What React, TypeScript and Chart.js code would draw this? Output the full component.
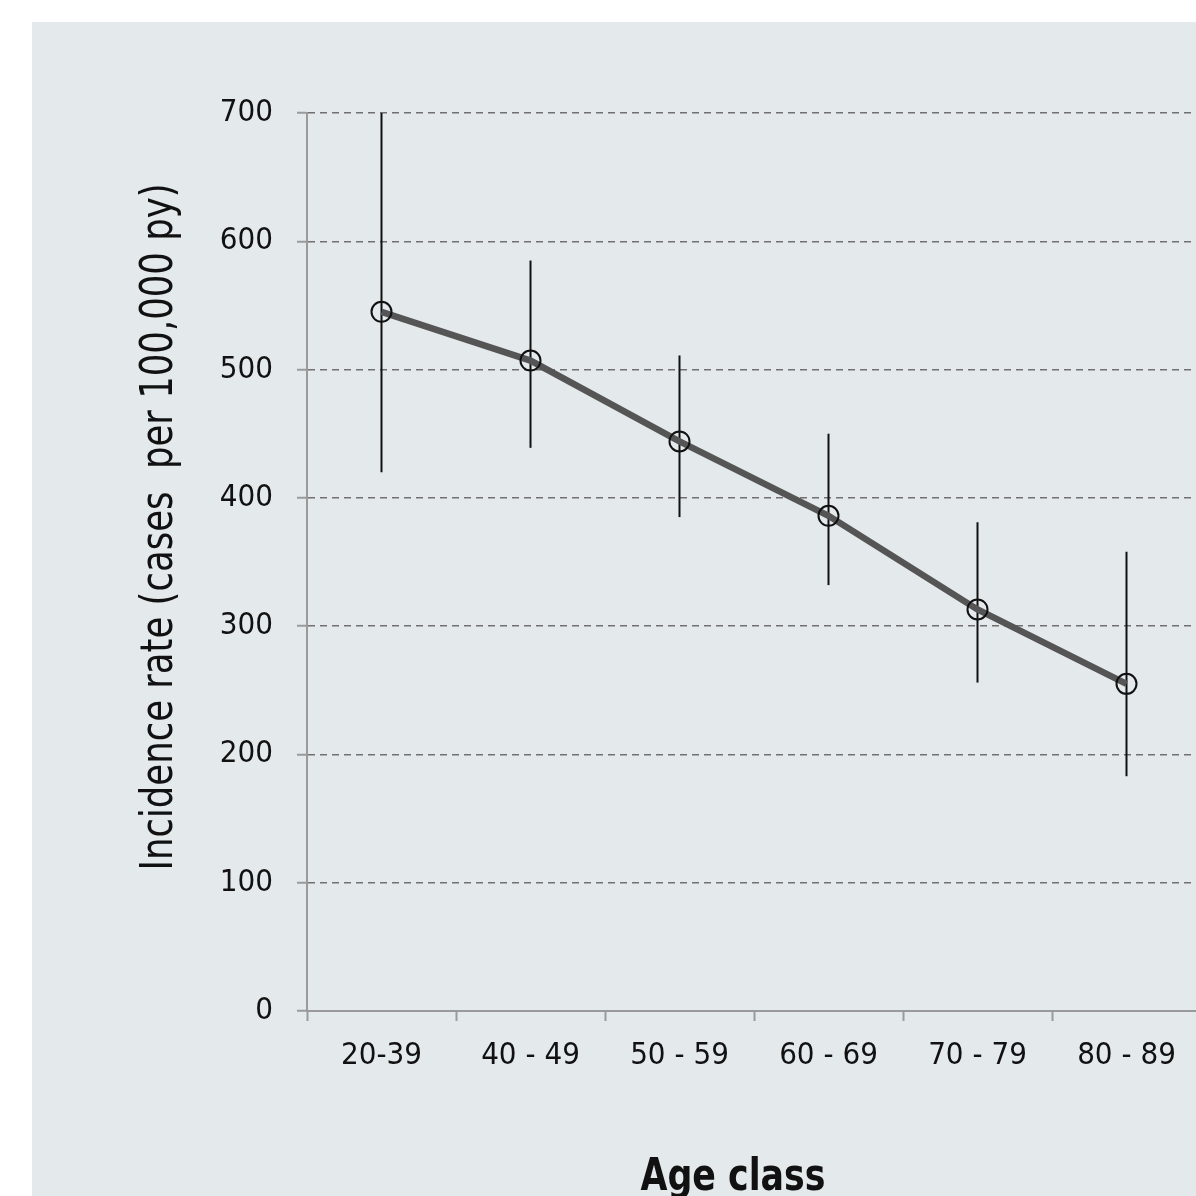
import React, { useEffect, useRef } from 'react';
import { Chart, registerables } from 'chart.js';

Chart.register(...registerables);

const categories = ['20-39', '40 - 49', '50 - 59', '60 - 69', '70 - 79', '80 - 89'];
const rates = [545, 507, 444, 386, 313, 255];
const lowerCI = [420, 439, 385, 332, 256, 183];
const upperCI = [700, 585, 511, 450, 381, 358];
const yTickValues = [0, 100, 200, 300, 400, 500, 600, 700];
const yTitle = 'Incidence rate (cases  per 100,000 py)';
const xTitle = 'Age class';

const FONT = "'Liberation Sans Narrow', 'DejaVu Sans Condensed', 'Arial Narrow', sans-serif";
const CANVAS_W = 1200;
const CANVAS_H = 1200;

const errorBarPlugin = {
  id: 'errorBars',
  beforeDatasetsDraw(chart: any) {
    const { ctx, scales } = chart;
    const x = scales.x;
    const y = scales.y;
    ctx.save();
    ctx.strokeStyle = '#111111';
    ctx.lineWidth = 2;
    for (let i = 0; i < categories.length; i++) {
      const px = x.getPixelForValue(i);
      ctx.beginPath();
      ctx.moveTo(px, y.getPixelForValue(lowerCI[i]));
      ctx.lineTo(px, y.getPixelForValue(upperCI[i]));
      ctx.stroke();
    }
    ctx.restore();
  },
};

function fitText(ctx: CanvasRenderingContext2D, text: string, target: number) {
  const w = ctx.measureText(text).width;
  return w > target ? target / w : 1;
}

const titlesPlugin = {
  id: 'customTitles',
  afterDraw(chart: any) {
    const { ctx } = chart;
    ctx.save();
    ctx.fillStyle = '#111111';
    ctx.textAlign = 'center';
    ctx.textBaseline = 'middle';
    ctx.font = `44px ${FONT}`;
    const sy = fitText(ctx, yTitle, 687);
    ctx.translate(129, 505);
    ctx.rotate(-Math.PI / 2);
    ctx.scale(sy, 1);
    ctx.fillText(yTitle, 0, 0);
    ctx.restore();

    ctx.save();
    ctx.fillStyle = '#111111';
    ctx.textAlign = 'center';
    ctx.textBaseline = 'alphabetic';
    ctx.font = `bold 44px ${FONT}`;
    const sx = fitText(ctx, xTitle, 185);
    ctx.translate(701, 1168);
    ctx.scale(sx, 1);
    ctx.fillText(xTitle, 0, 0);
    ctx.restore();
  },
};

export default function App() {
  const canvasRef = useRef<HTMLCanvasElement | null>(null);

  useEffect(() => {
    if (!canvasRef.current) return;
    const chart = new Chart(canvasRef.current, {
      type: 'line',
      data: {
        labels: categories,
        datasets: [
          {
            data: rates,
            borderColor: '#555555',
            borderWidth: 6.5,
            tension: 0,
            pointRadius: 10,
            pointHoverRadius: 10,
            pointBorderWidth: 2,
            pointBorderColor: '#111111',
            pointBackgroundColor: 'rgba(0,0,0,0)',
          },
        ],
      },
      options: {
        animation: false,
        responsive: false,
        devicePixelRatio: 1,
        layout: { padding: { left: 0, top: 91, right: 31, bottom: 0 } },
        plugins: {
          legend: { display: false },
          title: { display: false },
          tooltip: { enabled: false },
        },
        scales: {
          x: {
            type: 'category',
            offset: true,
            afterFit(scale: any) {
              scale.height = CANVAS_H - 989;
            },
            grid: {
              offset: true,
              drawOnChartArea: false,
              drawTicks: true,
              tickLength: 10,
              tickColor: '#9a9a9a',
              tickWidth: 2,
            },
            border: { color: '#9a9a9a', width: 2 },
            ticks: {
              color: '#111111',
              font: { family: FONT, size: 31 },
              padding: 16,
              maxRotation: 0,
            },
          },
          y: {
            min: 0,
            max: 700,
            afterFit(scale: any) {
              scale.width = 275;
            },
            afterBuildTicks(scale: any) {
              scale.ticks = yTickValues.map((v) => ({ value: v }));
            },
            grid: {
              color: (ctx: any) => (ctx.tick && ctx.tick.value === 0 ? 'rgba(0,0,0,0)' : '#707070'),
              lineWidth: 1.5,
              drawTicks: true,
              tickLength: 10,
              tickColor: '#9a9a9a',
              tickWidth: 2,
              tickBorderDash: [],
            },
            border: { color: '#9a9a9a', width: 2, dash: [7, 5] },
            ticks: {
              color: '#111111',
              font: { family: FONT, size: 31 },
              padding: 24,
            },
          },
        },
      },
      plugins: [errorBarPlugin, titlesPlugin],
    });
    return () => chart.destroy();
  }, []);

  return (
    <div
      style={{
        position: 'fixed',
        left: 0,
        top: 0,
        width: 1196,
        height: 1196,
        overflow: 'hidden',
        background: '#ffffff',
      }}
    >
      <div
        style={{
          position: 'absolute',
          left: 32,
          top: 22,
          width: CANVAS_W,
          height: CANVAS_H,
          background: '#e4e9ec',
        }}
      >
        <canvas
          ref={canvasRef}
          width={CANVAS_W}
          height={CANVAS_H}
          style={{ width: CANVAS_W, height: CANVAS_H, display: 'block' }}
        />
      </div>
    </div>
  );
}
